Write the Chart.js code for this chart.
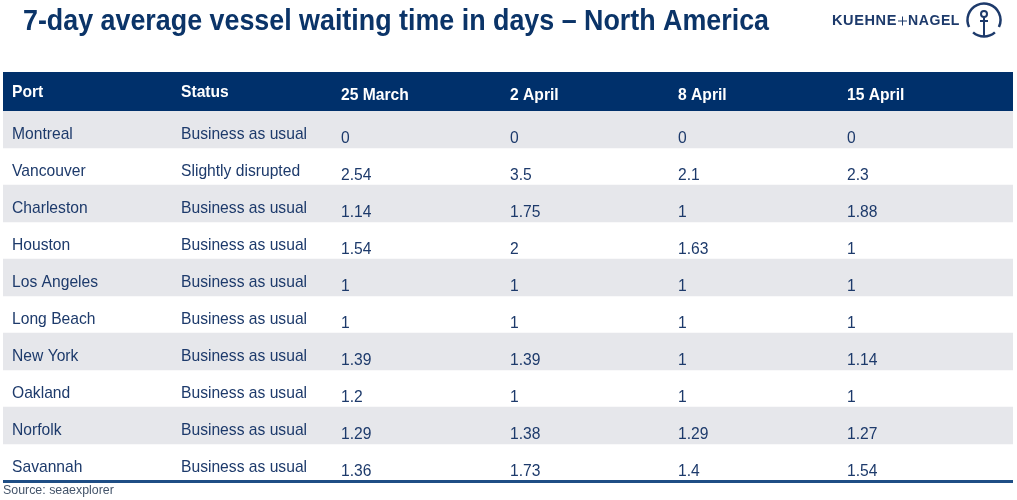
<!DOCTYPE html>
<html lang="en">
<head>
<meta charset="UTF-8">
<title>7-day average vessel waiting time</title>
<script src="https://cdn.jsdelivr.net/npm/chart.js@4/dist/chart.umd.min.js"></script>
<style>
  html, body { margin: 0; padding: 0; background: #fff; }
  #wrap { width: 1017px; height: 500px; }
</style>
</head>
<body>
<div id="wrap"><canvas id="table"></canvas></div>
<script>
const chartTitle = '7-day average vessel waiting time in days \u2013 North America';
const sourceNote = 'Source: seaexplorer';
const ports = ['Montreal', 'Vancouver', 'Charleston', 'Houston', 'Los Angeles', 'Long Beach', 'New York', 'Oakland', 'Norfolk', 'Savannah'];
const statuses = ['Business as usual', 'Slightly disrupted', 'Business as usual', 'Business as usual', 'Business as usual', 'Business as usual', 'Business as usual', 'Business as usual', 'Business as usual', 'Business as usual'];
const dates = ['25 March', '2 April', '8 April', '15 April'];
// waiting days, kept as text so 3.5 and 2.1 print as in the table
const march25 = ['0', '2.54', '1.14', '1.54', '1', '1', '1.39', '1.2', '1.29', '1.36'];
const april2 = ['0', '3.5', '1.75', '2', '1', '1', '1.39', '1', '1.38', '1.73'];
const april8 = ['0', '2.1', '1', '1.63', '1', '1', '1', '1', '1.29', '1.4'];
const april15 = ['0', '2.3', '1.88', '1', '1', '1', '1.14', '1', '1.27', '1.54'];
const dateColumns = [march25, april2, april8, april15];

// layout, in x scale units
const tableWidth = 1010;
const portX = 9, statusX = 178;
const dateX = [338, 507, 675, 844];

const navy = '#00306b', ink = '#1d3a6b';

// the source slide uses a slightly condensed Arial, so squeeze the text a bit
function putText(ctx, text, x, y, squeeze) {
  ctx.fillText(text, x, y, ctx.measureText(text).width * squeeze);
}

const tablePlugin = {
  id: 'tablePlugin',
  beforeDatasetsDraw(chart) {
    const { ctx, chartArea, scales: { x } } = chart;
    // header band sits right above the first row
    ctx.save();
    ctx.fillStyle = navy;
    ctx.fillRect(x.getPixelForValue(0), chartArea.top - 39, x.getPixelForValue(tableWidth) - x.getPixelForValue(0), 39);
    ctx.restore();
  },
  afterDatasetsDraw(chart) {
    const { ctx, chartArea, scales: { x, y } } = chart;
    ctx.save();
    ctx.textBaseline = 'middle';
    ctx.textAlign = 'left';

    // title and source
    ctx.fillStyle = '#0b3468';
    ctx.font = 'bold 29px "Liberation Sans"';
    ctx.fillText(chartTitle, 23, 22, 746);
    ctx.fillStyle = '#44546a';
    ctx.font = '12.4px "Liberation Sans"';
    ctx.fillText(sourceNote, 3, 491);

    // header row
    ctx.fillStyle = '#fff';
    ctx.font = 'bold 17px "Liberation Sans"';
    putText(ctx, 'Port', x.getPixelForValue(portX), 92, 0.92);
    putText(ctx, 'Status', x.getPixelForValue(statusX), 92, 0.92);
    dates.forEach((d, i) => putText(ctx, d, x.getPixelForValue(dateX[i]), 95, 0.92));

    // body rows
    ctx.fillStyle = ink;
    ctx.font = '17px "Liberation Sans"';
    ports.forEach((port, r) => {
      const py = y.getPixelForValue(r);
      putText(ctx, port, x.getPixelForValue(portX), py + 4.5, 0.92);
      putText(ctx, statuses[r], x.getPixelForValue(statusX), py + 4.5, 0.92);
      dateColumns.forEach((col, c) => putText(ctx, col[r], x.getPixelForValue(dateX[c]), py + 8.5, 0.92));
    });

    // bottom rule
    ctx.strokeStyle = '#1f4e85';
    ctx.lineWidth = 3;
    ctx.beginPath();
    ctx.moveTo(x.getPixelForValue(0), chartArea.bottom + 0.5);
    ctx.lineTo(x.getPixelForValue(tableWidth), chartArea.bottom + 0.5);
    ctx.stroke();

    drawLogo(ctx);
    ctx.restore();
  }
};

function drawLogo(ctx) {
  ctx.fillStyle = '#1d3a6b';
  ctx.strokeStyle = '#1d3a6b';
  ctx.font = 'bold 15px "Liberation Sans"';
  ctx.letterSpacing = '0.6px';
  ctx.fillText('KUEHNE', 832, 21, 65);
  ctx.fillText('NAGEL', 908, 21, 52);
  ctx.letterSpacing = '0px';
  ctx.lineWidth = 1;
  ctx.beginPath();
  ctx.moveTo(898, 21);
  ctx.lineTo(907, 21);
  ctx.moveTo(902.5, 16.5);
  ctx.lineTo(902.5, 25.5);
  ctx.stroke();

  ctx.lineWidth = 2.5;
  ctx.lineCap = 'butt';
  ctx.beginPath();
  ctx.arc(984, 20, 16.5, Math.PI * 0.86, Math.PI * 0.14);
  ctx.stroke();
  ctx.beginPath();
  ctx.arc(984, 20, 16.5, Math.PI * 0.27, Math.PI * 0.73);
  ctx.stroke();
  ctx.lineWidth = 2;
  ctx.beginPath();
  ctx.arc(984, 14, 3, 0, Math.PI * 2);
  ctx.stroke();
  ctx.beginPath();
  ctx.moveTo(984, 17);
  ctx.lineTo(984, 37);
  ctx.moveTo(980, 21);
  ctx.lineTo(988, 21);
  ctx.stroke();
}

new Chart(document.getElementById('table'), {
  type: 'bar',
  data: {
    labels: ports,
    datasets: [{
      // every other row gets the grey band
      data: ports.map((p, i) => (i % 2 === 0 ? [0, tableWidth] : null)),
      backgroundColor: '#e6e7eb',
      barPercentage: 1,
      categoryPercentage: 1
    }]
  },
  options: {
    indexAxis: 'y',
    responsive: true,
    maintainAspectRatio: false,
    animation: false,
    layout: { padding: { left: 3, right: 4, top: 111, bottom: 19 } },
    plugins: { legend: { display: false }, tooltip: { enabled: false } },
    scales: {
      x: { type: 'linear', min: 0, max: tableWidth, display: false },
      y: { type: 'category', display: false }
    }
  },
  plugins: [tablePlugin]
});
</script>
</body>
</html>
